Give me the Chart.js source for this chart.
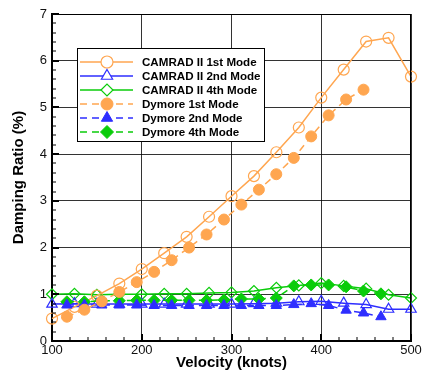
<!DOCTYPE html>
<html>
<head>
<meta charset="utf-8">
<script src="https://cdn.jsdelivr.net/npm/chart.js@4/dist/chart.umd.min.js"></script>
<style>
  html, body { margin: 0; padding: 0; background: #fff; }
  #wrap { width: 422px; height: 376px; }
</style>
</head>
<body>
<div id="wrap"><canvas id="c" width="422" height="376"></canvas></div>
<script>
// Velocity stations (knots)
const velocityCamrad = [100, 125, 150, 175, 200, 225, 250, 275, 300, 325, 350, 375, 400, 425, 450, 475, 500];
const velocityDymore = [116.6, 136.1, 155.5, 175.0, 194.4, 213.8, 233.3, 252.7, 272.2, 291.6, 311.0, 330.5, 349.9, 369.4, 388.8, 408.2, 427.7, 447.1, 466.5];

// Damping ratio (%)
const camrad1st = [0.48, 0.73, 0.97, 1.23, 1.54, 1.88, 2.23, 2.66, 3.10, 3.53, 4.04, 4.57, 5.21, 5.81, 6.41, 6.49, 5.66];
const camrad2nd = [0.79, 0.80, 0.79, 0.79, 0.79, 0.79, 0.79, 0.79, 0.79, 0.80, 0.81, 0.84, 0.85, 0.81, 0.78, 0.68, 0.68];
const camrad4th = [1.00, 1.01, 0.99, 1.00, 1.00, 1.01, 1.01, 1.03, 1.04, 1.07, 1.14, 1.19, 1.24, 1.18, 1.12, 0.99, 0.92];
const dymore1st = [0.52, 0.67, 0.85, 1.05, 1.26, 1.48, 1.73, 2.00, 2.28, 2.60, 2.92, 3.24, 3.57, 3.92, 4.38, 4.83, 5.17, 5.38];
const dymore2nd = [0.77, 0.77, 0.77, 0.77, 0.77, 0.76, 0.76, 0.76, 0.76, 0.76, 0.76, 0.76, 0.76, 0.78, 0.80, 0.76, 0.66, 0.60, 0.52];
const dymore4th = [0.84, 0.84, 0.86, 0.86, 0.87, 0.87, 0.87, 0.87, 0.87, 0.88, 0.90, 0.90, 0.92, 1.18, 1.20, 1.20, 1.16, 1.07, 1.01];

// Axis ranges and tick spacing
const xRange = [100, 500];
const yRange = [0, 7];
const xMajorStep = 100, xMinorStep = 20;
const yMajorStep = 1, yMinorStep = 0.2;

const ORANGE = '#FFA650';
const BLUE = '#2E2EFF';
const GREEN = '#0ACC0A';

function pairs(xs, ys) {
  return ys.map((v, i) => ({ x: xs[i], y: v }));
}

function series(label, xs, ys, color, style, filled, dashed, radius) {
  return {
    label,
    data: pairs(xs, ys),
    borderColor: color,
    backgroundColor: filled ? color : 'rgba(0,0,0,0)',
    pointBackgroundColor: filled ? color : 'rgba(0,0,0,0)',
    pointBorderColor: color,
    pointBorderWidth: filled ? 1 : 1.2,
    pointStyle: style,
    pointRadius: radius,
    borderWidth: 1.5,
    borderDash: dashed ? [7, 5] : [],
    tension: 0,
    fill: false,
    clip: false,
    order: dashed ? 0 : 1
  };
}

const datasets = [
  series('CAMRAD II 1st Mode', velocityCamrad, camrad1st, ORANGE, 'circle', false, false, 5.5),
  series('CAMRAD II 2nd Mode', velocityCamrad, camrad2nd, BLUE, 'triangle', false, false, 6),
  series('CAMRAD II 4th Mode', velocityCamrad, camrad4th, GREEN, 'rectRot', false, false, 5.5),
  series('Dymore 1st Mode', velocityDymore, dymore1st, ORANGE, 'circle', true, true, 5.5),
  series('Dymore 2nd Mode', velocityDymore, dymore2nd, BLUE, 'triangle', true, true, 6),
  series('Dymore 4th Mode', velocityDymore, dymore4th, GREEN, 'rectRot', true, true, 6)
];

// Inward major/minor ticks on the left and bottom axes, thin frame on top/right
const axisDecor = {
  id: 'axisDecor',
  afterDatasetsDraw(chart) {
    const { ctx, chartArea: a, scales: { x, y } } = chart;
    ctx.save();
    ctx.strokeStyle = '#000';
    ctx.lineWidth = 1;
    ctx.beginPath();
    ctx.moveTo(a.left, a.top + 0.5); ctx.lineTo(a.right, a.top + 0.5);
    ctx.moveTo(a.right - 0.5, a.top); ctx.lineTo(a.right - 0.5, a.bottom);
    ctx.stroke();
    const nx = Math.round((xRange[1] - xRange[0]) / xMinorStep);
    for (let i = 0; i <= nx; i++) {
      const v = xRange[0] + i * xMinorStep;
      const major = Math.abs(v / xMajorStep - Math.round(v / xMajorStep)) < 1e-6;
      const px = Math.round(x.getPixelForValue(v));
      ctx.lineWidth = major ? 2 : 1;
      ctx.beginPath();
      ctx.moveTo(px, a.bottom);
      ctx.lineTo(px, a.bottom - (major ? 7 : 4));
      ctx.stroke();
    }
    const ny = Math.round((yRange[1] - yRange[0]) / yMinorStep);
    for (let i = 0; i <= ny; i++) {
      const v = yRange[0] + i * yMinorStep;
      const major = Math.abs(v / yMajorStep - Math.round(v / yMajorStep)) < 1e-6;
      const py = Math.round(y.getPixelForValue(v));
      ctx.lineWidth = major ? 2 : 1;
      ctx.beginPath();
      ctx.moveTo(a.left, py);
      ctx.lineTo(a.left + (major ? 7 : 4), py);
      ctx.stroke();
    }
    ctx.restore();
  }
};

// Boxed legend inside the plot area
const boxLegend = {
  id: 'boxLegend',
  afterDraw(chart) {
    const { ctx, chartArea: a } = chart;
    const left = a.left + 25, top = a.top + 34, w = 187, h = 93;
    const rowH = 14, firstRow = top + 14;
    ctx.save();
    ctx.fillStyle = '#fff';
    ctx.fillRect(left, top, w, h);
    ctx.strokeStyle = '#000';
    ctx.lineWidth = 1;
    ctx.strokeRect(left + 0.5, top + 0.5, w, h);
    chart.data.datasets.forEach((ds, i) => {
      const cy = firstRow + i * rowH;
      const x0 = left + 3, x1 = left + 56, mx = left + 30;
      ctx.strokeStyle = ds.borderColor;
      ctx.lineWidth = ds.borderWidth;
      ctx.setLineDash(ds.borderDash);
      ctx.beginPath();
      ctx.moveTo(x0, cy); ctx.lineTo(x1, cy);
      ctx.stroke();
      ctx.setLineDash([]);
      const filled = ds.pointBackgroundColor !== 'rgba(0,0,0,0)';
      ctx.fillStyle = filled ? ds.borderColor : '#fff';
      ctx.strokeStyle = ds.borderColor;
      ctx.lineWidth = ds.pointBorderWidth;
      Chart.helpers.drawPoint(ctx, {
        pointStyle: ds.pointStyle,
        radius: ds.pointRadius + 0.5,
        rotation: 0,
        borderWidth: ds.pointBorderWidth
      }, mx, cy);
      ctx.fillStyle = '#000';
      ctx.font = 'bold 11.6px "Liberation Sans", Arial, sans-serif';
      ctx.textBaseline = 'middle';
      ctx.textAlign = 'left';
      ctx.fillText(ds.label, left + 65, cy + 0.5);
    });
    ctx.restore();
  }
};

new Chart(document.getElementById('c'), {
  type: 'line',
  data: { datasets },
  options: {
    responsive: false,
    animation: false,
    devicePixelRatio: 1,
    layout: { padding: { left: 0, right: 11, top: 14, bottom: 0 } },
    plugins: { legend: { display: false }, tooltip: { enabled: false } },
    scales: {
      x: {
        type: 'linear',
        min: xRange[0], max: xRange[1],
        afterFit(s) { s.height = 35; s.paddingLeft = 0; s.paddingRight = 0; },
        ticks: {
          stepSize: xMajorStep,
          padding: 2,
          color: '#111',
          font: { family: '"Liberation Sans", Arial, sans-serif', size: 13 },
          maxRotation: 0
        },
        grid: { color: 'rgba(0,0,0,0.8)', lineWidth: 1, drawTicks: false },
        border: { display: true, color: '#000', width: 2 },
        title: {
          display: true,
          text: 'Velocity (knots)',
          color: '#000',
          font: { family: '"Liberation Sans", Arial, sans-serif', size: 15, weight: 'bold' },
          padding: { top: 0, bottom: 4 }
        }
      },
      y: {
        type: 'linear',
        min: yRange[0], max: yRange[1],
        afterFit(s) { s.width = 52; s.paddingTop = 0; s.paddingBottom = 0; },
        ticks: {
          stepSize: yMajorStep,
          padding: 5,
          color: '#111',
          font: { family: '"Liberation Sans", Arial, sans-serif', size: 13 }
        },
        grid: { color: 'rgba(0,0,0,0.8)', lineWidth: 1, drawTicks: false },
        border: { display: true, color: '#000', width: 2 },
        title: {
          display: true,
          text: 'Damping Ratio (%)',
          color: '#000',
          font: { family: '"Liberation Sans", Arial, sans-serif', size: 15, weight: 'bold' },
          padding: { top: 10, bottom: 0 }
        }
      }
    }
  },
  plugins: [axisDecor, boxLegend]
});
</script>
</body>
</html>
